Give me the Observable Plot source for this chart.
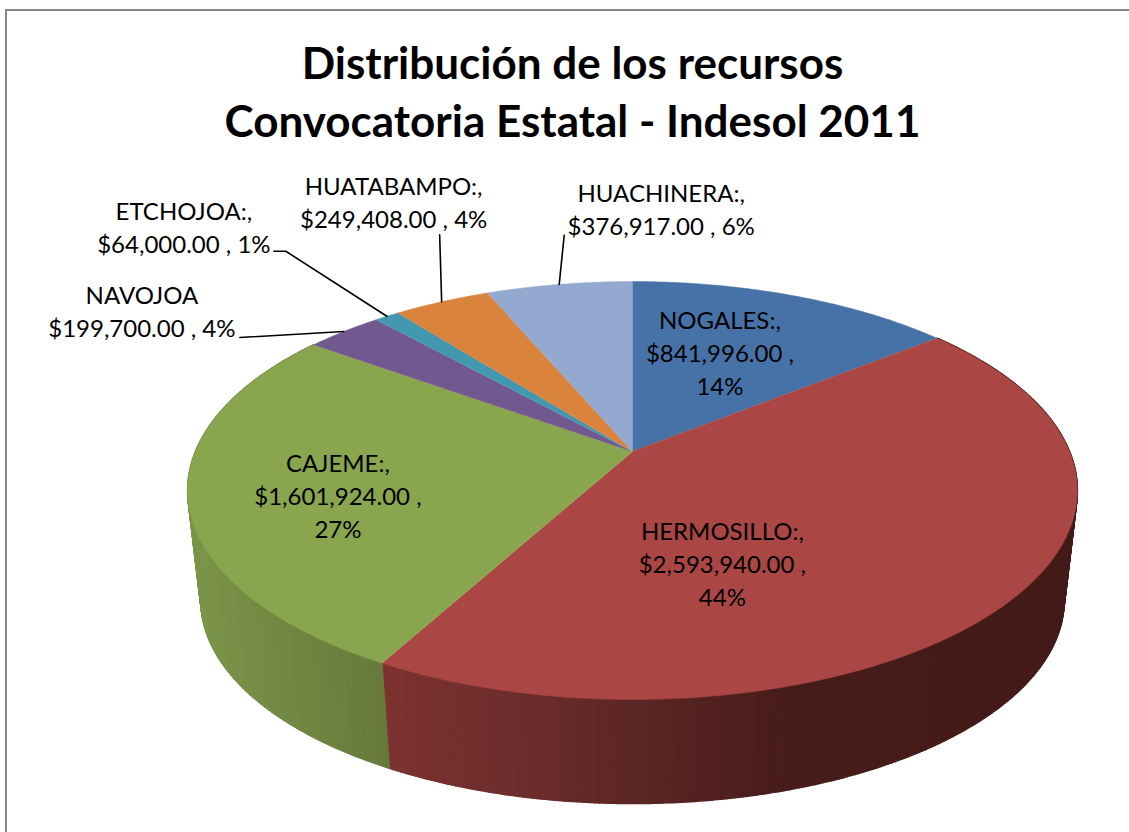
<!DOCTYPE html>
<html lang="es">
<head>
<meta charset="utf-8">
<script src="https://cdn.jsdelivr.net/npm/d3@7"></script>
<script src="https://cdn.jsdelivr.net/npm/@observablehq/plot@0.6"></script>
<style>
  html, body { margin: 0; padding: 0; background: #fff; width: 1129px; height: 832px; overflow: hidden; }
  #frame { position: absolute; left: 5px; top: 9px; right: 0; bottom: 0; border-top: 2px solid #868686; border-left: 2px solid #868686; pointer-events: none; }
  #title { position: absolute; left: 0; top: 33px; width: 1129px; box-sizing: border-box; padding-left: 16px; text-align: center;
           font: bold 44px/58px Lato, "Open Sans", sans-serif; color: #000; }
  #chart { position: absolute; left: 0; top: 165px; }
</style>
</head>
<body>
<div id="frame"></div>
<div id="title">Distribución de los recursos<br>Convocatoria Estatal - Indesol 2011</div>
<div id="chart"></div>
<script>
// ---- data ----
const categories = ["NOGALES", "HERMOSILLO", "CAJEME", "NAVOJOA", "ETCHOJOA", "HUATABAMPO", "HUACHINERA"];
const amounts = [841996, 2593940, 1601924, 199700, 64000, 249408, 376917];
const percents = [14, 44, 27, 4, 1, 4, 6];
const nameSuffix = [":,", ":,", ":,", "", ":,", ":,", ":,"];

// ---- styles ----
const topColors = ["#4672A8", "#AA4643", "#89A54E", "#71588F", "#4198AF", "#D9833D", "#93A9CF"];
const insideLabel = [true, true, true, false, false, false, false];

// ---- label layout: offsets from the slice's rim midpoint ----
const labelDx = [-74, -291, 150, -202, -203, -48, 102];
const labelDy = [56, -36, -3, -22, -90, -101, -76];
const leaderOffsets = [null, null, null, [[-104, 6]], [[-101, -65], [-113, -65]], [[-2, -67]], [[5, -49]]];

// ---- perspective model of the disc ----
const persp = 0.1867;
const disc = {cx: 632, cy: 451, a: 437, b: 201.7};
const base = {cx: 632, cy: 562, a: 424, b: 196};
function project(model, angle, r = 1) {
  const u = r * Math.sin(angle), v = -r * Math.cos(angle), w = 1 - persp * v;
  return [model.cx + model.a * u / w, model.cy + model.b * v / w];
}

const slices = d3.pie().sort(null).value(d => d)(amounts);
const step = Math.PI / 360;
const anglesOf = (s) => {
  const out = d3.range(s.startAngle, s.endAngle, step);
  out.push(s.endAngle);
  return out;
};

// top faces
const faces = slices.flatMap((s, i) => {
  const pts = [[disc.cx, disc.cy], ...anglesOf(s).map(t => project(disc, t))];
  return pts.map(([x, y]) => ({x, y, id: categories[i], color: topColors[i]}));
});

// side wall, shaded along x
const shade = {
  HERMOSILLO: d3.scaleLinear().domain([388, 500, 620, 790, 1080]).range(["#7c3230", "#6e2e2d", "#5e2725", "#471c1a", "#431b19"]).clamp(true),
  CAJEME: d3.scaleLinear().domain([190, 388]).range(["#7b9549", "#66793a"]).clamp(true)
};
const side = slices.flatMap((s, i) => {
  const sh = shade[categories[i]];
  if (!sh) return [];
  const ts = anglesOf(s);
  const out = [];
  for (let k = 0; k + 1 < ts.length; k++) {
    const p0 = project(disc, ts[k]), p1 = project(disc, ts[k + 1]);
    const q1 = project(base, ts[k + 1]), q0 = project(base, ts[k]);
    const color = sh((p0[0] + p1[0]) / 2);
    const id = categories[i] + k;
    [p0, p1, q1, q0, p0].forEach(([x, y]) => out.push({x, y, id, color}));
  }
  return out;
});

// labels and leaders
const fmt = d3.format("$,.2f");
const labels = slices.map((s, i) => {
  const [ax, ay] = project(disc, (s.startAngle + s.endAngle) / 2);
  const sep = insideLabel[i] ? " ,\n" : " , ";
  return {
    x: ax + labelDx[i],
    y: ay + labelDy[i],
    text: `${categories[i]}${nameSuffix[i]}\n${fmt(amounts[i])}${sep}${percents[i]}%`
  };
});
const leaders = slices.flatMap((s, i) => {
  if (!leaderOffsets[i]) return [];
  const [ax, ay] = project(disc, (s.startAngle + s.endAngle) / 2);
  return [[ax, ay], ...leaderOffsets[i].map(([dx, dy]) => [ax + dx, ay + dy])]
    .map(([x, y]) => ({x, y, id: categories[i]}));
});

const chart = Plot.plot({
  width: 1129,
  height: 667,
  margin: 0,
  style: {background: "transparent"},
  x: {domain: [0, 1129], range: [0, 1129], axis: null},
  y: {domain: [165, 832], range: [0, 667], axis: null},
  color: {type: "identity"},
  marks: [
    Plot.line(side, {x: "x", y: "y", z: "id", fill: "color", stroke: "color", strokeWidth: 1.6, strokeLinejoin: "round"}),
    Plot.line(faces, {x: "x", y: "y", z: "id", fill: "color", stroke: "color", strokeWidth: 0.5}),
    Plot.line(leaders, {x: "x", y: "y", z: "id", stroke: "#000", strokeWidth: 1.6}),
    Plot.text(labels, {
      x: "x", y: "y", text: "text",
      fontFamily: "Lato, 'Open Sans', sans-serif",
      fontSize: 24,
      lineHeight: 1.375,
      fill: "#000",
      textAnchor: "middle"
    })
  ]
});
document.getElementById("chart").appendChild(chart);
</script>
</body>
</html>
